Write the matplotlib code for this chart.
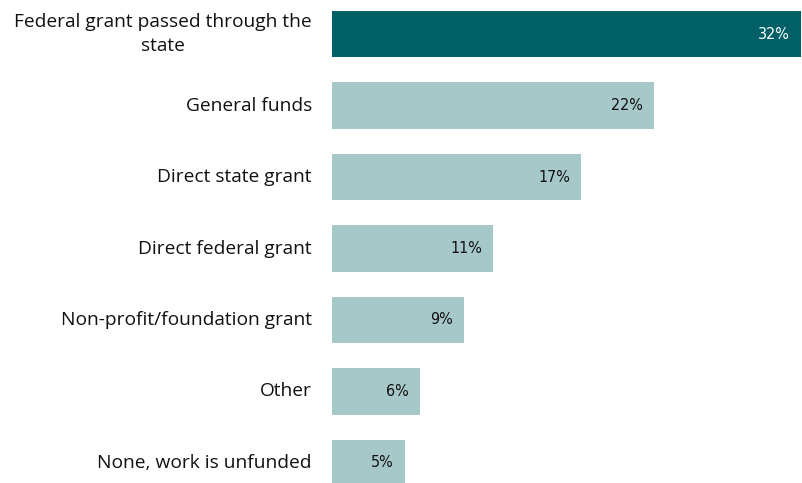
import matplotlib.pyplot as plt

# funding sources, share of respondents
categories = ["Federal grant passed through the\nstate", "General funds", "Direct state grant",
              "Direct federal grant", "Non-profit/foundation grant", "Other", "None, work is unfunded"]
values = [32, 22, 17, 11, 9, 6, 5]
value_labels = ["32%", "22%", "17%", "11%", "9%", "6%", "5%"]

dark = "#015f66"
light = "#a7c8c9"
colors = [dark] + [light] * (len(values) - 1)

fig = plt.figure(figsize=(8.03, 4.83), dpi=100)
ax = fig.add_axes([332 / 803, 0, 471 / 803, 1])

y = list(range(len(values)))
ax.barh(y, values, height=0.645, color=colors)
ax.set_xlim(0, 32 * 471 / 469)
ax.set_ylim(6.28, -0.476)
ax.axis("off")

for i, (v, lab) in enumerate(zip(values, value_labels)):
    ax.annotate(lab, (v, i), xytext=(-8, 0), textcoords="offset points", ha="right", va="center",
                fontsize=11.5, family="DejaVu Sans", fontstretch="condensed",
                color="white" if i == 0 else "#111111")
    ax.annotate(categories[i], (0, i), xytext=(-14.5, 0), textcoords="offset points",
                ha="right", va="center", multialignment="center", fontsize=13.8, linespacing=1.45,
                family=["Open Sans", "DejaVu Sans"], color="#111111", annotation_clip=False)

fig.savefig("out.png", dpi=100)
